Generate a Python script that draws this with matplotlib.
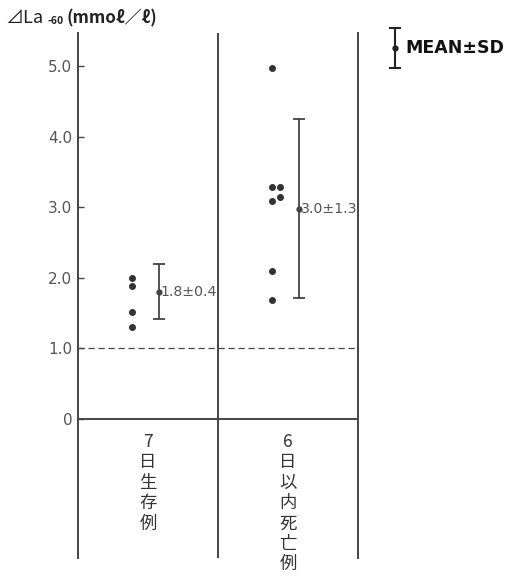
import matplotlib
matplotlib.use('Agg')
import matplotlib.pyplot as plt

plt.rcParams['font.family'] = ['Noto Sans CJK JP', 'DejaVu Sans']

# values
groups = ['7日生存例', '6日以内死亡例']
survive_vals = [2.00, 1.88, 1.51, 1.30]
died_vals = [4.97, 3.29, 3.29, 3.09, 3.15, 2.10, 1.69]
dot_offsets_died = [0.0, 0.0, 0.057, 0.0, 0.057, 0.0, 0.0]
means = [1.80, 2.98]
sds = [0.39, 1.27]
mean_labels = ['1.8±0.4', '3.0±1.3']
yticks = [0, 1, 2, 3, 4, 5]
ytick_labels = ['0', '1.0', '2.0', '3.0', '4.0', '5.0']
cutoff = 1.0

line_col = '#444444'
text_col = '#555555'

fig = plt.figure(figsize=(5.18, 5.77), dpi=100)
W, H = 518, 577
ax = fig.add_axes([78 / W, (H - 558) / H, (358 - 78) / W, (558 - 33) / H])
ax.set_xlim(-0.5, 1.5)
ax.set_ylim(-1.97, 5.47)

for s in ['top', 'bottom']:
    ax.spines[s].set_visible(False)
for s in ['left', 'right']:
    ax.spines[s].set_color(line_col)
    ax.spines[s].set_linewidth(1.4)
ax.axvline(0.5, color=line_col, lw=1.4)
ax.axhline(0, color=line_col, lw=1.4)
ax.axhline(cutoff, color=line_col, lw=0.9, ls=(0, (5, 3)))

ax.set_xticks([])
ax.set_yticks(yticks)
ax.set_yticklabels(ytick_labels, family='DejaVu Sans')
ax.tick_params(axis='y', direction='in', length=4, width=1, color=line_col,
               labelsize=11, labelcolor=text_col, pad=4)

dot_x = -0.114
ax.plot([dot_x] * len(survive_vals), survive_vals, 'o', color='#333333', ms=4)
ax.plot([1 + dot_x + o for o in dot_offsets_died], died_vals, 'o', color='#333333', ms=4)

for i, (m, sd, lab) in enumerate(zip(means, sds, mean_labels)):
    xb = i + 0.079
    ax.errorbar([xb], [m], yerr=[sd], fmt='o', color=line_col, ms=3.5,
                capsize=4, elinewidth=1.3, capthick=1.3)
    ax.text(xb + 0.012, m, lab, fontsize=10.2, color=text_col, va='center',
            ha='left', family='DejaVu Sans')

for i, g in enumerate(groups):
    ax.text(i, -0.2, '\n'.join(g), ha='center', va='top', fontsize=12.5,
            color='#333333', linespacing=1.17, clip_on=False)

# y axis title
fig.text(5 / W, 1 - 18 / H, '⊿La', fontsize=13, color='#222222', va='center')
fig.text(48 / W, 1 - 21 / H, '-60', fontsize=7.5, color='#222222', va='center',
         weight='bold')
fig.text(66 / W, 1 - 18 / H, '(mmoℓ／ℓ)', fontsize=12.2, color='#222222',
         va='center', weight='bold')

# legend
lax = fig.add_axes([385 / W, (H - 72) / H, 20 / W, 48 / H])
lax.set_xlim(-1, 1)
lax.set_ylim(-1.2, 1.2)
lax.axis('off')
lax.errorbar([0], [0], yerr=[1], fmt='o', color='#222222', ms=3.5,
             capsize=4, elinewidth=1.5, capthick=1.5)
fig.text(405 / W, 1 - 48 / H, 'MEAN±SD', fontsize=12.5, weight='bold',
         color='#111111', va='center', family='DejaVu Sans')

fig.savefig('out.png', dpi=100)
